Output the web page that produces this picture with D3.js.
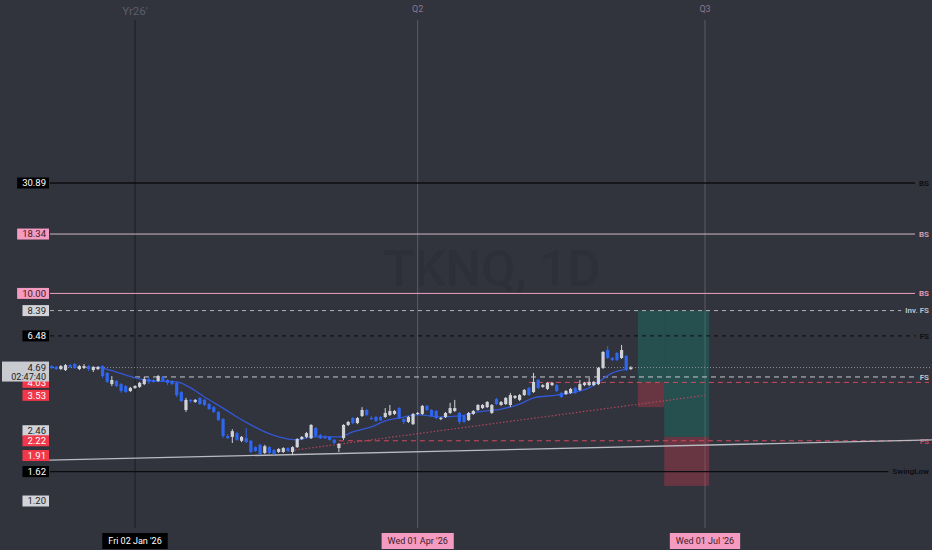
<!DOCTYPE html>
<html>
<head>
<meta charset="utf-8">
<script src="https://cdn.jsdelivr.net/npm/d3@7"></script>
<style>
  html, body { margin: 0; padding: 0; background: #31333d; }
  svg { display: block; font-family: Roboto, "Liberation Sans", sans-serif; }
</style>
</head>
<body>
<div id="chart"></div>
<script>
// daily candles, bar 0 = Fri 02 Jan '26
const firstBar = -18;
const opens = [
  4.76, 4.72, 4.62, 4.57, 4.81, 4.86, 4.62, 4.67, 4.76, 4.57,
  4.62, 4.76, 4.44, 3.96, 4.09, 3.96, 3.88, 3.69, 3.81, 3.85,
  3.96, 4.17, 4.13, 4.09, 4.26, 4.13, 4.09, 4.01, 3.65, 3.04,
  3.37, 3.30, 3.44, 3.37, 3.23, 3.13, 2.98, 2.77, 2.33, 2.31,
  2.40, 2.22, 2.28, 2.22, 2.08, 2.13, 1.96, 2.08, 2.02, 1.98,
  1.98, 2.06, 1.98, 2.08, 2.26, 2.31, 2.28, 2.53, 2.35, 2.31,
  2.31, 2.24, 2.06, 2.28, 2.61, 2.80, 2.66, 2.86, 3.04, 2.80,
  2.83, 2.83, 2.83, 2.89, 2.92, 3.10, 2.77, 2.69, 2.63, 2.92,
  2.92, 3.17, 3.04, 3.01, 2.77, 2.83, 2.95, 3.01, 2.95, 2.86,
  2.74, 2.92, 3.04, 3.10, 3.13, 2.95, 3.40, 3.20, 3.23, 3.20,
  3.44, 3.37, 3.54, 3.81, 3.65, 4.13, 3.85, 3.77, 3.92, 3.92,
  3.62, 3.58, 3.62, 3.81, 3.73, 3.92, 3.92, 3.92, 3.96, 4.67,
  5.61, 5.17, 5.44, 5.17, 5.28, 4.62
];
const highs = [
  4.81, 4.76, 4.81, 4.86, 4.86, 4.91, 4.81, 4.86, 4.81, 4.76,
  4.76, 4.81, 4.48, 4.30, 4.13, 4.01, 3.92, 3.85, 3.92, 4.05,
  4.26, 4.22, 4.17, 4.35, 4.30, 4.17, 4.13, 4.05, 3.69, 3.44,
  3.40, 3.40, 3.47, 3.40, 3.27, 3.17, 3.01, 2.80, 2.38, 2.50,
  2.43, 2.33, 2.53, 2.24, 2.10, 2.15, 2.13, 2.10, 2.04, 2.06,
  2.08, 2.08, 2.10, 2.28, 2.33, 2.43, 2.63, 2.56, 2.38, 2.35,
  2.33, 2.26, 2.17, 2.63, 2.72, 2.83, 2.83, 3.13, 3.07, 2.86,
  2.86, 2.86, 3.10, 3.20, 3.04, 3.13, 2.80, 2.86, 2.95, 2.98,
  3.20, 3.20, 3.07, 3.04, 2.83, 2.98, 3.27, 3.37, 2.98, 2.89,
  2.98, 3.04, 3.23, 3.23, 3.33, 3.23, 3.44, 3.33, 3.47, 3.62,
  3.54, 3.58, 3.77, 3.85, 4.44, 4.17, 3.96, 4.05, 4.05, 3.96,
  3.65, 3.73, 3.81, 3.85, 4.13, 4.05, 4.22, 4.09, 4.72, 5.55,
  5.85, 5.22, 5.50, 5.91, 5.33, 4.76
];
const lows = [
  4.62, 4.57, 4.57, 4.53, 4.67, 4.62, 4.57, 4.62, 4.53, 4.48,
  4.57, 4.22, 4.01, 3.88, 3.85, 3.62, 3.62, 3.65, 3.77, 3.81,
  3.92, 3.96, 4.01, 4.05, 4.05, 3.92, 3.92, 3.47, 3.30, 2.98,
  3.27, 3.27, 3.20, 3.17, 3.04, 2.95, 2.72, 2.28, 2.26, 2.17,
  2.22, 2.19, 2.17, 1.96, 1.98, 1.92, 1.94, 1.94, 1.92, 1.96,
  1.96, 1.98, 1.92, 2.06, 2.24, 2.28, 2.26, 2.31, 2.26, 2.26,
  2.22, 2.15, 1.98, 2.24, 2.58, 2.63, 2.63, 2.83, 2.86, 2.74,
  2.69, 2.72, 2.80, 2.86, 2.89, 2.77, 2.63, 2.66, 2.61, 2.89,
  2.89, 3.01, 2.83, 2.77, 2.74, 2.80, 2.92, 2.98, 2.63, 2.66,
  2.72, 2.89, 3.01, 3.07, 3.10, 2.92, 3.20, 3.17, 3.20, 3.13,
  3.40, 3.33, 3.51, 3.51, 3.62, 3.77, 3.81, 3.73, 3.88, 3.65,
  3.44, 3.54, 3.58, 3.58, 3.69, 3.88, 3.88, 3.88, 3.92, 4.62,
  5.12, 5.01, 5.01, 5.12, 4.53, 4.57
];
const closes = [
  4.67, 4.62, 4.76, 4.81, 4.72, 4.67, 4.76, 4.76, 4.62, 4.72,
  4.72, 4.30, 4.05, 4.13, 3.88, 3.69, 3.65, 3.81, 3.88, 4.01,
  4.17, 4.05, 4.05, 4.30, 4.09, 4.01, 3.96, 3.54, 3.33, 3.37,
  3.33, 3.37, 3.23, 3.20, 3.07, 2.98, 2.74, 2.33, 2.28, 2.45,
  2.24, 2.31, 2.19, 1.98, 2.00, 1.94, 2.10, 1.96, 1.94, 2.04,
  2.06, 2.00, 2.08, 2.26, 2.31, 2.40, 2.61, 2.33, 2.28, 2.28,
  2.24, 2.17, 2.15, 2.61, 2.69, 2.66, 2.80, 3.04, 2.89, 2.77,
  2.72, 2.74, 2.95, 3.01, 3.01, 2.80, 2.69, 2.83, 2.92, 2.95,
  3.17, 3.04, 2.86, 2.80, 2.80, 2.95, 3.10, 3.10, 2.69, 2.69,
  2.95, 3.01, 3.20, 3.20, 3.30, 3.20, 3.23, 3.30, 3.44, 3.54,
  3.51, 3.54, 3.73, 3.54, 4.05, 3.81, 3.92, 4.01, 4.01, 3.69,
  3.47, 3.69, 3.77, 3.62, 3.96, 4.01, 4.05, 4.05, 4.67, 5.50,
  5.17, 5.07, 5.07, 5.61, 4.57, 4.69
];

// moving average
const maBars   = [-8, -4, 0, 4, 9, 12, 15, 19, 22, 25, 28, 31, 35, 38, 41, 44, 47,
                  51, 54, 57, 61, 66, 70, 74, 79, 83, 86, 91, 95, 98, 100, 103, 106];
const maValues = [4.72, 4.48, 4.22, 4.09, 4.05, 3.81, 3.47, 3.10, 2.83, 2.61, 2.43, 2.31,
                  2.24, 2.31, 2.31, 2.31, 2.43, 2.56, 2.72, 2.80, 2.89, 2.83, 2.86, 2.98,
                  3.07, 3.23, 3.44, 3.54, 3.65, 3.81, 4.05, 4.44, 4.62];

// time axis
const timeTickBars   = [0, 61, 123];
const timeTickLabels = ["Fri 02 Jan '26", "Wed 01 Apr '26", "Wed 01 Jul '26"];
const topTickLabels  = ["Yr26'", "Q2", "Q3"];
const timeTickKinds  = ["year", "quarter", "quarter"];

// horizontal levels with right-side tags
const levels = [
  { value: 30.89, tag: "BS",       kind: "black" },
  { value: 18.34, tag: "BS",       kind: "pale" },
  { value: 10.00, tag: "BS",       kind: "pink" },
  { value: 8.39,  tag: "Inv. FS",  kind: "greyDash" },
  { value: 6.48,  tag: "FS",       kind: "blackDash" },
  { value: 4.26,  tag: "FS",       kind: "lightDash", fromBar: 0 },
  { value: 4.03,  tag: "",         kind: "redDash",   fromBar: 85 },
  { value: 2.22,  tag: "FS",       kind: "redDash",   fromBar: 44 },
  { value: 1.62,  tag: "SwingLow", kind: "black" }
];

// price-scale tags on the left
const axisTagValues = [30.89, 18.34, 10.00, 8.39, 6.48, 4.03, 3.53, 2.46, 2.22, 1.91, 1.62, 1.20];
const axisTagKinds  = ["black", "pink", "pink", "light", "black", "red", "red", "light", "red", "red", "black", "light"];
const lastPrice = 4.69;
const countdown = "02:47:40";

// long position tools
const positions = [
  { fromBar: 108.5, toBar: 114.2, entry: 4.03, stop: 3.13, target: 8.39 },
  { fromBar: 114.2, toBar: 123.9, entry: 2.31, stop: 1.40, target: 8.39 }
];

// trend lines
const supportLine = [{ bar: -18.5, value: 1.82 }, { bar: 172, value: 2.24 }];
const risingLine  = [{ bar: 33, value: 2.00 }, { bar: 123, value: 3.53 }];

const width = 932, height = 550,
      plotLeft = 50, plotBottom = 528;

const lineStyle = {
  black:     { stroke: "#0c0d11", dash: null,  w: 1.3, text: "#0c0d11" },
  pale:      { stroke: "#cdb9c6", dash: null,  w: 1,   text: "#d6a4bb" },
  pink:      { stroke: "#f0a0c0", dash: null,  w: 1,   text: "#f0a0c0" },
  greyDash:  { stroke: "#b4b6be", dash: "4,4", w: 1,   text: "#c2c4cb" },
  blackDash: { stroke: "#0c0d11", dash: "4,4", w: 1,   text: "#0c0d11" },
  lightDash: { stroke: "#c8cad1", dash: "5,4", w: 1,   text: "#c8cad1" },
  redDash:   { stroke: "#d24a5c", dash: "5,4", w: 1,   text: "#d24a5c" }
};
const tagStyle = {
  black: { bg: "#000000", fg: "#ffffff" },
  pink:  { bg: "#f59ac0", fg: "#3a1d28" },
  light: { bg: "#d1d3d9", fg: "#1e1f25" },
  red:   { bg: "#f0384a", fg: "#ffffff" }
};

const svg = d3.select("#chart").append("svg")
  .attr("width", width).attr("height", height)
  .attr("viewBox", [0, 0, width, height]);

svg.append("rect").attr("width", width).attr("height", height).attr("fill", "#31333d");

let x = d3.scaleLinear()
  .domain([timeTickBars[0], timeTickBars[2]])
  .range([135, 705]);

let y = d3.scaleLog()
  .domain([1.20, 30.89])
  .range([501, 183]);

// watermark
svg.append("text")
  .attr("x", 492).attr("y", 286)
  .attr("text-anchor", "middle")
  .style("font-size", "50px")
  .style("font-weight", "500")
  .attr("fill", "#2e3039")
  .text("TKNQ, 1D");

// vertical period lines + top labels
timeTickBars.forEach((b, k) => {
  const yr = timeTickKinds[k] === "year";
  svg.append("line")
    .attr("x1", x(b)).attr("x2", x(b))
    .attr("y1", 20).attr("y2", plotBottom)
    .attr("stroke", yr ? "#1d1f26" : "#5a5c67")
    .attr("stroke-width", 1);
  svg.append("text")
    .attr("x", x(b)).attr("y", yr ? 15 : 12)
    .attr("text-anchor", "middle")
    .style("font-size", yr ? "11.5px" : "9px")
    .attr("fill", yr ? "#5c5f6a" : "#8c7892")
    .text(topTickLabels[k]);
});

// position boxes
const pos = svg.append("g").attr("class", "positions");
positions.forEach(p => {
  pos.append("rect")
    .attr("x", x(p.fromBar)).attr("width", x(p.toBar) - x(p.fromBar))
    .attr("y", y(p.target)).attr("height", y(p.entry) - y(p.target))
    .attr("fill", "#15806e").attr("opacity", 0.38);
  pos.append("rect")
    .attr("x", x(p.fromBar)).attr("width", x(p.toBar) - x(p.fromBar))
    .attr("y", y(p.entry)).attr("height", y(p.stop) - y(p.entry))
    .attr("fill", "#c23a4c").attr("opacity", 0.38);
});

// last price dotted line
svg.append("line")
  .attr("x1", plotLeft).attr("x2", width)
  .attr("y1", y(lastPrice)).attr("y2", y(lastPrice))
  .attr("stroke", "#8d9099").attr("stroke-dasharray", "1,2");

// levels with right tags
const lv = svg.append("g").attr("class", "levels");
levels.forEach(d => {
  const st = lineStyle[d.kind];
  let tw = 0;
  if (d.tag) {
    const t = lv.append("text")
      .attr("x", 929).attr("y", y(d.value)).attr("dy", "0.35em")
      .attr("text-anchor", "end")
      .style("font-size", "8px")
      .style("font-weight", "600")
      .attr("fill", st.text)
      .text(d.tag);
    tw = t.node().getComputedTextLength() + 4;
  }
  lv.insert("line", "text")
    .attr("x1", d.fromBar !== undefined ? x(d.fromBar) : plotLeft)
    .attr("x2", 929 - tw)
    .attr("y1", y(d.value)).attr("y2", y(d.value))
    .attr("stroke", st.stroke)
    .attr("stroke-width", st.w)
    .attr("stroke-dasharray", st.dash);
});

// trend lines
const tl = d3.line().x(d => x(d.bar)).y(d => y(d.value));
svg.append("path").datum(supportLine)
  .attr("d", tl).attr("fill", "none")
  .attr("stroke", "#b9bbc3").attr("stroke-width", 1.3);
svg.append("path").datum(risingLine)
  .attr("d", tl).attr("fill", "none")
  .attr("stroke", "#b3485a").attr("stroke-width", 1.2)
  .attr("stroke-dasharray", "1.5,2");

// moving average
const ma = maBars.map((b, k) => ({ bar: b, value: maValues[k] }));
svg.append("path").datum(ma)
  .attr("d", d3.line().x(d => x(d.bar)).y(d => y(d.value)).curve(d3.curveMonotoneX))
  .attr("fill", "none")
  .attr("stroke", "#3457d5")
  .attr("stroke-width", 1.3);

// candles
const bars = opens.map((o, k) => ({ bar: firstBar + k, o: o, h: highs[k], l: lows[k], c: closes[k] }));
const up = "#d0d2d8", down = "#2f66f0";
const cg = svg.append("g").attr("class", "candles")
  .selectAll("g").data(bars).join("g");
cg.append("line")
  .attr("x1", d => x(d.bar)).attr("x2", d => x(d.bar))
  .attr("y1", d => y(d.h)).attr("y2", d => y(d.l))
  .attr("stroke", d => d.c >= d.o ? up : down)
  .attr("stroke-width", 1);
cg.append("rect")
  .attr("x", d => x(d.bar) - 1.6)
  .attr("width", 3.2)
  .attr("y", d => y(Math.max(d.o, d.c)))
  .attr("height", d => Math.max(1, Math.abs(y(d.o) - y(d.c))))
  .attr("fill", d => d.c >= d.o ? up : down);

// left price tags
const fmt = d3.format(".2f");
function priceTag(v, kind) {
  const st = tagStyle[kind];
  const g = svg.append("g");
  const r = g.append("rect");
  const t = g.append("text")
    .attr("x", 46).attr("y", y(v)).attr("dy", "0.35em")
    .attr("text-anchor", "end")
    .style("font-size", "9.5px")
    .attr("fill", st.fg)
    .text(fmt(v));
  const w = t.node().getComputedTextLength();
  r.attr("x", 46 - w - 5).attr("width", w + 8)
    .attr("y", y(v) - 5.5).attr("height", 11)
    .attr("fill", st.bg);
}
axisTagValues.forEach((v, k) => priceTag(v, axisTagKinds[k]));

// current price + countdown box (drawn over the 4.03 tag, as in the source)
const cp = svg.append("g");
cp.append("rect")
  .attr("x", 2).attr("width", 47)
  .attr("y", y(lastPrice) - 6).attr("height", 20)
  .attr("fill", "#c9cbd1");
cp.append("text")
  .attr("x", 46).attr("y", y(lastPrice)).attr("dy", "0.35em")
  .attr("text-anchor", "end").style("font-size", "9.5px").attr("fill", "#1e1f25")
  .text(fmt(lastPrice));
cp.append("text")
  .attr("x", 46).attr("y", y(lastPrice) + 9.5).attr("dy", "0.35em")
  .attr("text-anchor", "end").style("font-size", "9px").attr("fill", "#1e1f25")
  .text(countdown);

// bottom time labels
timeTickBars.forEach((b, k) => {
  const yr = timeTickKinds[k] === "year";
  const g = svg.append("g");
  const r = g.append("rect");
  const t = g.append("text")
    .attr("x", x(b)).attr("y", 541).attr("dy", "0.35em")
    .attr("text-anchor", "middle")
    .style("font-size", "9px")
    .attr("fill", yr ? "#ffffff" : "#3a1d28")
    .text(timeTickLabels[k]);
  const w = t.node().getComputedTextLength();
  r.attr("x", x(b) - w / 2 - 6).attr("width", w + 12)
    .attr("y", 533).attr("height", 16)
    .attr("fill", yr ? "#000000" : "#f59ac0");
});
</script>
</body>
</html>
